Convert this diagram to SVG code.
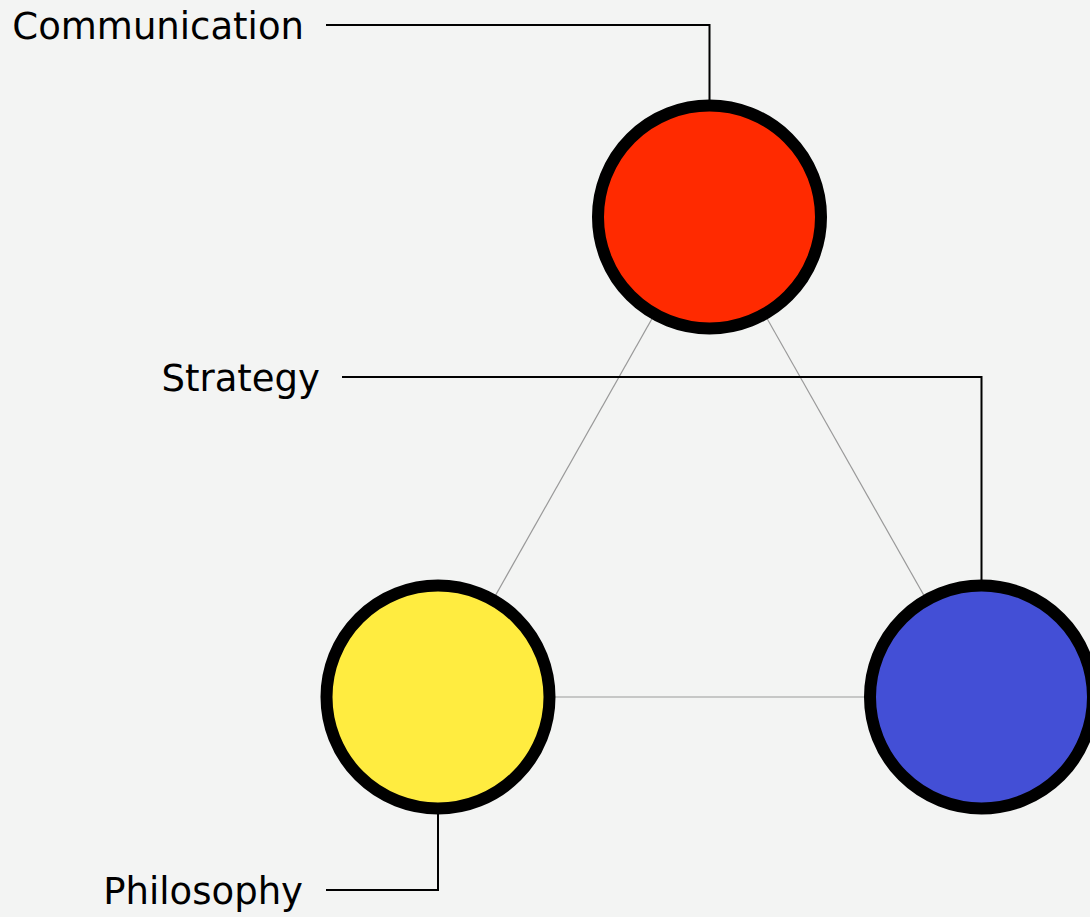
<svg xmlns="http://www.w3.org/2000/svg" width="1090" height="917" viewBox="0 0 1090 917">
<style>
.bg{fill:#f3f4f3}
.edge{stroke:#999999;stroke-width:1.2;fill:none}
.leader{stroke:#000000;stroke-width:2;fill:none}
.node{stroke:#000000;stroke-width:12}
.label{font-family:"DejaVu Sans","Liberation Sans",sans-serif;font-size:37px;fill:#000000;text-anchor:end}
</style>
<rect class="bg" x="0" y="0" width="1090" height="917"/>
<g id="connectors">
<line class="edge" x1="709.5" y1="217" x2="438" y2="697"/>
<line class="edge" x1="709.5" y1="217" x2="981.5" y2="697"/>
<line class="edge" x1="438" y1="697" x2="981.5" y2="697"/>
<polyline class="leader" points="326,25 709.5,25 709.5,100"/>
<polyline class="leader" points="342,377 981.5,377 981.5,580"/>
<polyline class="leader" points="326,890 438,890 438,814"/>
</g>
<g id="communication">
<circle class="node" cx="709.5" cy="217" r="111.5" fill="#ff2a00"/>
<text class="label" x="304" y="39">Communication</text>
</g>
<g id="strategy">
<circle class="node" cx="981.5" cy="697" r="111.5" fill="#434fd6"/>
<text class="label" x="320" y="391">Strategy</text>
</g>
<g id="philosophy">
<circle class="node" cx="438" cy="697" r="111.5" fill="#ffec40"/>
<text class="label" x="303" y="904">Philosophy</text>
</g>
</svg>
